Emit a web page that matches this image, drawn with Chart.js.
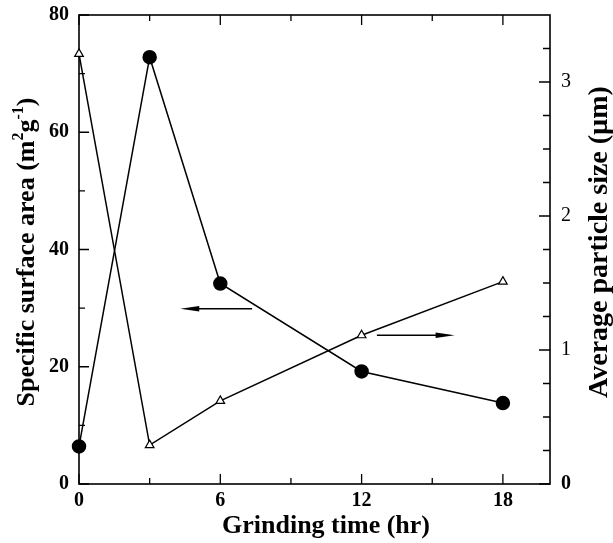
<!DOCTYPE html>
<html>
<head>
<meta charset="utf-8">
<script src="https://cdn.jsdelivr.net/npm/chart.js@4.4.1/dist/chart.umd.min.js"></script>
<style>
  html, body { margin: 0; padding: 0; background: #fff; }
  #chart { display: block; }
</style>
</head>
<body>
<canvas id="chart" width="613" height="543"></canvas>
<script>
// Grinding time (hr)
const grindTime = [0, 3, 6, 12, 18];
// Specific surface area (m2/g), left axis, filled circles
const surfaceArea = [6.4, 72.8, 34.2, 19.2, 13.8];
// Average particle size (um), right axis, open triangles
const particleSize = [3.21, 0.29, 0.62, 1.11, 1.51];

// Tick values
const xTicks = [0, 6, 12, 18];
const xMinorTicks = [3, 9, 15];
const leftTicks = [0, 20, 40, 60, 80];
const leftMinorTicks = [10, 30, 50, 70];
const rightTicks = [0, 1, 2, 3];
const rightMinorTicks = [0.25, 0.5, 0.75, 1.25, 1.5, 1.75, 2.25, 2.5, 2.75, 3.25];

// Arrows pointing to the axis of each series: [xStart, xEnd, y]
const leftArrow = [7.35, 4.3, 29.9];   // on left axis
const rightArrow = [12.65, 15.95, 1.11]; // on right axis

const FONT = 'Liberation Serif, Times New Roman, serif';

/**
 * Draw text with superscript pieces, centered on (0, 0)
 */
function drawRichText(ctx, parts, size) {
    const supSize = Math.round(size * 0.62);
    let total = 0;
    parts.forEach(p => {
        ctx.font = 'bold ' + (p.sup ? supSize : size) + 'px ' + FONT;
        p.w = ctx.measureText(p.text).width;
        total += p.w;
    });
    let x = -total / 2;
    const base = size * 0.33;
    ctx.textAlign = 'left';
    ctx.textBaseline = 'alphabetic';
    parts.forEach(p => {
        ctx.font = 'bold ' + (p.sup ? supSize : size) + 'px ' + FONT;
        ctx.fillText(p.text, x, p.sup ? base - size * 0.42 : base);
        x += p.w;
    });
}

function drawArrow(ctx, x1, x2, y) {
    const dir = x2 > x1 ? 1 : -1;
    const headLen = 19;
    ctx.beginPath();
    ctx.moveTo(x1, y);
    ctx.lineTo(x2 - dir * headLen * 0.6, y);
    ctx.stroke();
    ctx.beginPath();
    ctx.moveTo(x2, y);
    ctx.lineTo(x2 - dir * headLen, y - 2.8);
    ctx.lineTo(x2 - dir * headLen, y + 2.8);
    ctx.closePath();
    ctx.fill();
}

// Box, inward ticks, arrows and axis titles
const framePlugin = {
    id: 'frame',
    beforeDatasetsDraw(chart) {
        const ctx = chart.ctx;
        const area = chart.chartArea;
        const x = chart.scales.x, y = chart.scales.y, y1 = chart.scales.y1;
        const major = 10, minor = 6;

        ctx.save();
        ctx.strokeStyle = '#000';
        ctx.fillStyle = '#000';
        ctx.lineWidth = 1.6;
        ctx.strokeRect(area.left, area.top, area.right - area.left, area.bottom - area.top);

        ctx.lineWidth = 1.3;
        ctx.beginPath();
        // bottom and top ticks
        xTicks.concat(xMinorTicks).forEach(v => {
            const len = xTicks.includes(v) ? major : minor;
            const px = x.getPixelForValue(v);
            ctx.moveTo(px, area.bottom);
            ctx.lineTo(px, area.bottom - len);
            ctx.moveTo(px, area.top);
            ctx.lineTo(px, area.top + len);
        });
        // left ticks
        leftTicks.concat(leftMinorTicks).forEach(v => {
            const len = leftTicks.includes(v) ? major : minor;
            const py = y.getPixelForValue(v);
            ctx.moveTo(area.left, py);
            ctx.lineTo(area.left + len, py);
        });
        // right ticks
        rightTicks.concat(rightMinorTicks).forEach(v => {
            const len = rightTicks.includes(v) ? major + 1 : minor + 1;
            const py = y1.getPixelForValue(v);
            ctx.moveTo(area.right, py);
            ctx.lineTo(area.right - len, py);
        });
        ctx.stroke();

        // arrows
        ctx.lineWidth = 1.4;
        drawArrow(ctx, x.getPixelForValue(leftArrow[0]), x.getPixelForValue(leftArrow[1]), y.getPixelForValue(leftArrow[2]));
        drawArrow(ctx, x.getPixelForValue(rightArrow[0]), x.getPixelForValue(rightArrow[1]), y1.getPixelForValue(rightArrow[2]));
        ctx.restore();
    },
    afterDraw(chart) {
        const ctx = chart.ctx;
        ctx.save();
        ctx.fillStyle = '#000';

        // x title
        ctx.save();
        ctx.translate(326, 524);
        drawRichText(ctx, [{ text: 'Grinding time (hr)' }], 26);
        ctx.restore();

        // left title
        ctx.save();
        ctx.translate(25, 252);
        ctx.rotate(-Math.PI / 2);
        drawRichText(ctx, [
            { text: 'Specific surface area (m' },
            { text: '2', sup: true },
            { text: 'g' },
            { text: '-1', sup: true },
            { text: ')' }
        ], 26);
        ctx.restore();

        // right title
        ctx.save();
        ctx.translate(598, 242);
        ctx.rotate(-Math.PI / 2);
        drawRichText(ctx, [{ text: 'Average particle size (\u00b5m)' }], 28);
        ctx.restore();

        ctx.restore();
    }
};

const tickFont = { family: FONT, size: 20, weight: 'bold' };

// pin the axis boxes so the plot area sits where the reference has it
function fixWidth(w) {
    return s => { s.width = w; s.paddingTop = 0; s.paddingBottom = 0; };
}

new Chart(document.getElementById('chart'), {
    type: 'line',
    data: {
        datasets: [{
            label: 'Specific surface area',
            data: grindTime.map((t, i) => ({ x: t, y: surfaceArea[i] })),
            yAxisID: 'y',
            borderColor: '#000',
            borderWidth: 1.5,
            pointStyle: 'circle',
            pointRadius: 6.5,
            pointBackgroundColor: '#000',
            pointBorderColor: '#000',
            tension: 0,
            clip: false
        }, {
            label: 'Average particle size',
            data: grindTime.map((t, i) => ({ x: t, y: particleSize[i] })),
            yAxisID: 'y1',
            borderColor: '#000',
            borderWidth: 1.5,
            pointStyle: 'triangle',
            pointRadius: 5,
            pointBackgroundColor: '#fff',
            pointBorderColor: '#000',
            pointBorderWidth: 1.2,
            tension: 0,
            clip: false
        }]
    },
    options: {
        responsive: false,
        animation: false,
        layout: { padding: { top: 15, left: 0, right: 0, bottom: 0 } },
        plugins: {
            legend: { display: false },
            tooltip: { enabled: false }
        },
        scales: {
            x: {
                type: 'linear',
                min: 0,
                max: 20,
                afterBuildTicks: s => { s.ticks = xTicks.map(v => ({ value: v })); },
                afterFit: s => { s.height = 59; s.paddingLeft = 0; s.paddingRight = 0; },
                grid: { display: false, drawTicks: false },
                border: { display: false },
                ticks: { padding: 5, color: '#000', font: tickFont, maxRotation: 0 }
            },
            y: {
                position: 'left',
                min: 0,
                max: 80,
                afterBuildTicks: s => { s.ticks = leftTicks.map(v => ({ value: v })); },
                afterFit: fixWidth(79),
                grid: { display: false, drawTicks: false },
                border: { display: false },
                ticks: { padding: 10, color: '#000', font: tickFont }
            },
            y1: {
                position: 'right',
                min: 0,
                max: 3.5,
                afterBuildTicks: s => { s.ticks = rightTicks.map(v => ({ value: v })); },
                afterFit: fixWidth(63),
                grid: { display: false, drawTicks: false },
                border: { display: false },
                ticks: {
                    padding: 11,
                    color: '#000',
                    font: ctx => ({
                        family: FONT,
                        size: 20,
                        weight: ctx.tick && ctx.tick.value === 0 ? 'bold' : 'normal'
                    })
                }
            }
        }
    },
    plugins: [framePlugin]
});
</script>
</body>
</html>
